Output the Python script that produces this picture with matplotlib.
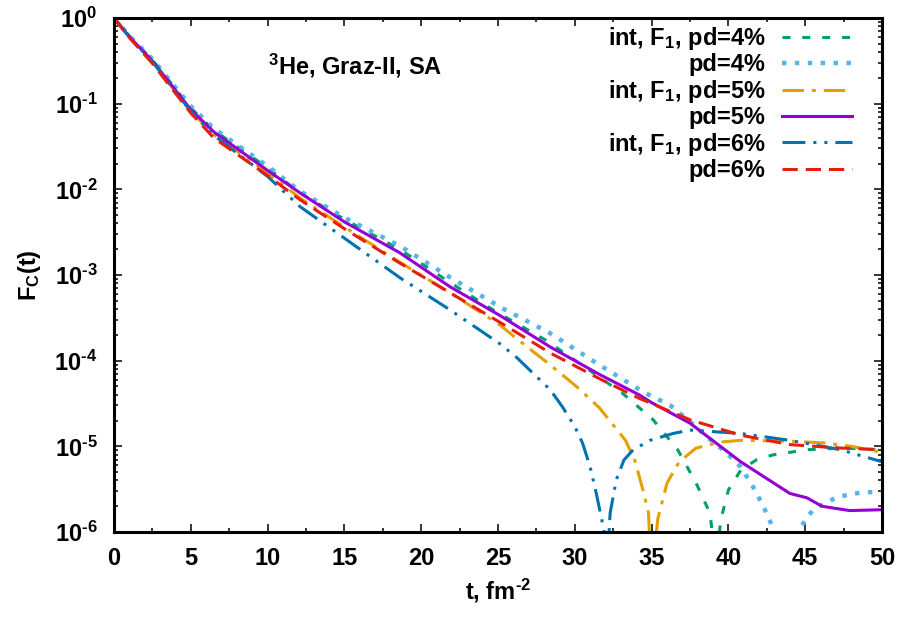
import numpy as np
import matplotlib
matplotlib.use("Agg")
import matplotlib.pyplot as plt
from matplotlib.ticker import MultipleLocator, FixedLocator, FuncFormatter, NullFormatter

# шрифт: жирный Arial-подобный, включая mathtext
plt.rcParams['font.family'] = ['Liberation Sans', 'DejaVu Sans']
plt.rcParams['font.weight'] = 'bold'
plt.rcParams['axes.labelweight'] = 'bold'
plt.rcParams['mathtext.fontset'] = 'custom'
for k in ['rm', 'it', 'bf', 'sf']:
    plt.rcParams['mathtext.' + k] = 'Liberation Sans:bold'
plt.rcParams['mathtext.default'] = 'rm'

# данные: t, fm^-2 и log10 F_C(t)
t_int4 = [0, 1, 2.5, 5, 6.5, 10, 12.1, 15, 18.6, 21.9, 24.7, 28.1, 31.1, 33.1, 34.2, 35.1,
          36.7, 37.9, 38.8, 39.2, 39.5, 40.0, 40.8, 41.8, 42.9, 45.1, 47.3, 50]
lg_int4 = [0, -0.21, -0.49, -1.05, -1.31, -1.75, -2.04, -2.35, -2.70, -3.09, -3.41, -3.76, -4.13, -4.38, -4.55, -4.69,
           -5.04, -5.43, -5.78, -6.4, -5.86, -5.51, -5.28, -5.16, -5.10, -5.04, -5.02, -5.04]

t_pd4 = [0, 1, 2.5, 5, 6.5, 10, 12.1, 15, 18.6, 21.9, 25.3, 28.4, 31.6, 34.5, 36.2, 37.5,
         38.6, 39.9, 40.8, 41.6, 42.3, 42.9, 43.8, 44.8, 45.5, 47.1, 48.6, 50]
lg_pd4 = [0, -0.21, -0.48, -1.03, -1.29, -1.73, -2.02, -2.33, -2.66, -3.03, -3.39, -3.68, -4.05, -4.37, -4.52, -4.71,
          -4.89, -5.08, -5.24, -5.47, -5.71, -5.95, -7.0, -5.92, -5.74, -5.59, -5.54, -5.53]

t_int5 = [0, 1, 2.5, 5, 6.5, 10, 12.1, 15, 18.6, 21.9, 25.1, 26.2, 28.4, 30.1, 31.6, 33.3, 33.9,
          34.5, 34.8, 35.0, 35.4, 36.0, 36.8, 37.9, 39.5, 40.8, 44.0, 46.2, 48.0, 50]
lg_int5 = [0, -0.22, -0.51, -1.09, -1.36, -1.81, -2.10, -2.44, -2.85, -3.21, -3.58, -3.74, -4.05, -4.30, -4.55, -4.93, -5.16,
           -5.55, -5.78, -6.6, -5.85, -5.43, -5.18, -5.02, -4.95, -4.93, -4.94, -4.96, -5.00, -5.07]

t_pd5 = [0, 1, 2.5, 5, 6.5, 10, 12.1, 15, 18.6, 21.9, 25.1, 28.4, 31.6, 34.2, 35.0, 37.5,
         40.8, 44.0, 45.1, 46.1, 47.9, 50]
lg_pd5 = [0, -0.22, -0.50, -1.07, -1.33, -1.78, -2.04, -2.38, -2.74, -3.14, -3.47, -3.84, -4.16, -4.40, -4.49, -4.73,
          -5.18, -5.55, -5.60, -5.70, -5.75, -5.74]

t_int6 = [0, 1, 2.5, 5, 6.5, 10, 12.1, 15, 18.6, 21.9, 25.1, 26.2, 28.4, 29.2, 30.0, 30.5, 31.0,
          31.4, 31.9, 32.05, 32.3, 32.7, 33.2, 33.8, 34.9, 36.4, 37.5, 40.8, 44.0, 47.3, 50]
lg_int6 = [0, -0.22, -0.51, -1.09, -1.37, -1.85, -2.20, -2.57, -3.03, -3.41, -3.80, -3.96, -4.34, -4.54, -4.77, -4.96, -5.24,
           -5.55, -5.98, -6.6, -5.78, -5.39, -5.16, -5.04, -4.93, -4.85, -4.81, -4.85, -4.93, -5.04, -5.18]

t_pd6 = [0, 1, 2.5, 5, 6.5, 10, 12.1, 15, 18.6, 21.9, 25.1, 28.4, 31.6, 34.2, 37.5, 40.8, 44.0, 47.3, 50]
lg_pd6 = [0, -0.23, -0.53, -1.11, -1.40, -1.84, -2.12, -2.46, -2.86, -3.21, -3.55, -3.91, -4.21, -4.44, -4.69,
          -4.87, -4.98, -5.02, -5.04]

labels = ['int, F$_1$, pd=4%', 'pd=4%', 'int, F$_1$, pd=5%', 'pd=5%', 'int, F$_1$, pd=6%', 'pd=6%']
y_decades = [-6, -5, -4, -3, -2, -1, 0]

fs = 17
fig = plt.figure(figsize=(9.06, 6.21), dpi=100)
ax = fig.add_axes([114 / 906, 1 - 532 / 621, 768 / 906, 514 / 621])

lw = 2.2
ax.plot(t_int4, 10 ** np.array(lg_int4), color='#009e73', lw=lw, dashes=(2.6, 3.9), label=labels[0])
ax.plot(t_pd4, 10 ** np.array(lg_pd4), color='#56b4e9', lw=3.2, dashes=(1.0, 1.9), label=labels[1])
ax.plot(t_int5, 10 ** np.array(lg_int5), color='#e69f00', lw=lw, dashes=(7, 2.6, 1.3, 2.6), label=labels[2])
ax.plot(t_pd5, 10 ** np.array(lg_pd5), color='#9400d3', lw=lw, label=labels[3])
ax.plot(t_int6, 10 ** np.array(lg_int6), color='#0072b2', lw=lw, dashes=(7.5, 2.6, 1.0, 2.6, 1.0, 2.6), label=labels[4])
ax.plot(t_pd6, 10 ** np.array(lg_pd6), color='#e51e10', lw=lw, dashes=(5, 2.6), label=labels[5])

ax.set_yscale('log')
ax.set_xlim(0, 50)
ax.set_ylim(1e-6, 1)

ax.xaxis.set_major_locator(MultipleLocator(5))
ax.xaxis.set_minor_locator(MultipleLocator(2.5))
# только декады внутри диапазона, чтобы не было лишних подписей
major_y = [10.0 ** e for e in y_decades]
minor_y = [m * 10.0 ** e for e in y_decades[:-1] for m in range(2, 10)]
ax.yaxis.set_major_locator(FixedLocator(major_y))
ax.yaxis.set_minor_locator(FixedLocator(minor_y))
ax.yaxis.set_minor_formatter(NullFormatter())


def exp_label(v, pos):
    e = int(round(np.log10(v)))
    s = '\u2010%d' % -e if e < 0 else '%d' % e
    return r'$10^{%s}$' % s


ax.yaxis.set_major_formatter(FuncFormatter(exp_label))

ax.tick_params(which='both', direction='in', top=True, right=True, width=1.1)
ax.tick_params(which='major', length=6, labelsize=fs)
ax.tick_params(axis='x', which='major', pad=11)
ax.tick_params(axis='y', which='major', pad=12)
ax.tick_params(which='minor', length=3)
for s in ax.spines.values():
    s.set_linewidth(2.2)

ax.set_xlabel('t, fm$^{\u20102}$', fontsize=fs, labelpad=5)
ax.set_ylabel('F$_C$(t)', fontsize=fs, labelpad=8)

ax.text(10.0, 10 ** -0.654, '$^3$He, Graz-II, SA', fontsize=fs, ha='left', va='baseline')

leg = ax.legend(loc='upper right', bbox_to_anchor=(852 / 906, 1 - 25 / 621),
                bbox_transform=fig.transFigure, frameon=False, markerfirst=False,
                fontsize=fs, handlelength=2.95, handletextpad=0.7, labelspacing=0.06,
                borderpad=0, borderaxespad=0)

fig.savefig('out.png', dpi=100)
